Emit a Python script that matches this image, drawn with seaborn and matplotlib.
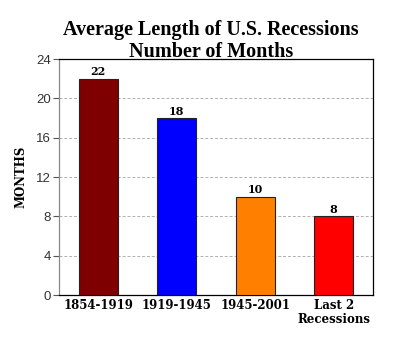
import matplotlib
matplotlib.use("Agg")
import matplotlib.pyplot as plt
import seaborn as sns
import pandas as pd

categories = ["1854-1919", "1919-1945", "1945-2001", "Last 2\nRecessions"]
months = [22, 18, 10, 8]
colors = ["#7f0000", "#0000ff", "#ff8000", "#ff0000"]
yticks = [0, 4, 8, 12, 16, 20, 24]

sns.set_style("white")
df = pd.DataFrame({"period": categories, "months": months})

fig = plt.figure(figsize=(4.0, 3.41), dpi=100)
ax = fig.add_axes([59/400, 1-295/341, 314/400, 236/341])
sns.barplot(data=df, x="period", y="months", hue="period", palette=colors,
            width=0.5, edgecolor="#222222", linewidth=0.8, legend=False, ax=ax,
            saturation=1, zorder=3)
ax.set_ylim(0, 24)
ax.set_xlim(-0.5, 3.5)
ax.set_yticks(yticks)
ax.set_yticklabels([str(t) for t in yticks], fontsize=9.5, color="#333333",
                   family="Liberation Sans")
ax.yaxis.grid(True, linestyle=(0, (3, 2)), color="#b0b0b0", linewidth=0.7, zorder=0)
ax.set_axisbelow(True)
ax.tick_params(axis="y", length=4, width=0.8, color="#555555", pad=2, left=True)
ax.tick_params(axis="x", length=0, pad=3)
for lbl in ax.get_xticklabels():
    lbl.set_family("DejaVu Serif")
    lbl.set_fontweight("bold")
    lbl.set_fontsize(8.5)
    lbl.set_color("black")
    lbl.set_linespacing(1.05)
ax.set_xlabel("")
ax.set_ylabel("MONTHS", family="DejaVu Serif", fontweight="bold", fontsize=8.5,
              labelpad=6, color="black")
for s in ["top", "right", "bottom"]:
    ax.spines[s].set_color("black")
    ax.spines[s].set_linewidth(0.9)
ax.spines["left"].set_color("#888888")
ax.spines["left"].set_linewidth(0.9)

for i, v in enumerate(months):
    ax.text(i, v + 0.15, str(v), ha="center", va="bottom", family="DejaVu Serif",
            fontweight="bold", fontsize=8, color="black")

fig.text(0.5275, 1-20/341, "Average Length of U.S. Recessions\nNumber of Months",
         ha="center", va="top", family="Liberation Serif", fontweight="bold",
         fontsize=14.5, linespacing=1.12, color="black")
fig.savefig("out.png", dpi=100)
